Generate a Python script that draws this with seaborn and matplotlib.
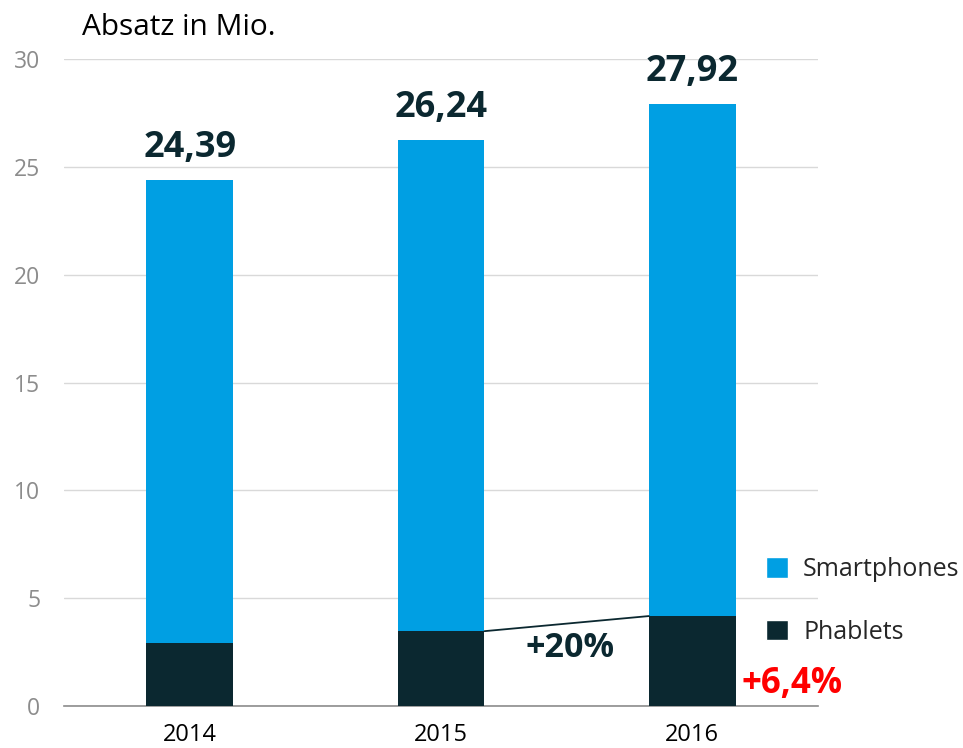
import matplotlib
matplotlib.use('Agg')
import matplotlib.pyplot as plt
import seaborn as sns
import pandas as pd
from matplotlib.patches import Patch

# Daten
jahre = ['2014', '2015', '2016']
gesamt = [24.39, 26.24, 27.92]
phablets = [2.9, 3.47, 4.17]
gesamt_labels = ['24,39', '26,24', '27,92']
wachstum_phablets = '+20%'
wachstum_gesamt = '+6,4%'

BLAU = '#009FE3'
DUNKEL = '#0B2830'

sns.set_theme(style='white')
plt.rcParams['font.family'] = ['Open Sans', 'DejaVu Sans']

df = pd.DataFrame({'jahr': jahre, 'gesamt': gesamt, 'phablets': phablets})

fig = plt.figure(figsize=(9.63, 7.48), dpi=100)
ax = fig.add_axes([64 / 963, 1 - 706 / 748, (818 - 64) / 963, (706 - 59) / 748])

# Gesamtbalken (blau), darüber Phablets (dunkel)
sns.barplot(data=df, x='jahr', y='gesamt', color=BLAU, width=0.346,
            saturation=1, linewidth=0, ax=ax, zorder=2)
sns.barplot(data=df, x='jahr', y='phablets', color=DUNKEL, width=0.346,
            saturation=1, linewidth=0, ax=ax, zorder=3)

ax.set_xlim(-0.5, 2.5)
ax.set_ylim(0, 30)
ax.set_yticks(range(0, 31, 5))
ax.yaxis.grid(True, color='#d9d9d9', linewidth=1)
ax.set_axisbelow(True)
for s in ['top', 'right', 'left']:
    ax.spines[s].set_visible(False)
ax.spines['bottom'].set_color('#8c8c8c')
ax.spines['bottom'].set_linewidth(1.2)
ax.set_xlabel('')
ax.set_ylabel('')
ax.tick_params(axis='y', length=0, pad=17, labelsize=16.5, labelcolor='#8c8c8c')
ax.tick_params(axis='x', length=0, pad=12, labelsize=17, labelcolor='black')

# Summen über den Balken
for i, (v, t) in enumerate(zip(gesamt, gesamt_labels)):
    ax.text(i, v + 0.65, t, ha='center', va='bottom', fontsize=26,
            fontweight='bold', color=DUNKEL)

# Verbindungslinie Phablets 2015 -> 2016
bw = 0.346 / 2
ax.plot([1 + bw, 2 - bw], [phablets[1], phablets[2]], color=DUNKEL,
        linewidth=1.3, zorder=4)
ax.text(1.513, 2.69, wachstum_phablets, ha='center', va='center',
        fontsize=24.5, fontweight='bold', color=DUNKEL)
ax.text(2.396, 1.02, wachstum_gesamt, ha='center', va='center',
        fontsize=25, fontweight='bold', color='#ff0000', clip_on=False)

fig.text(82 / 963, 1 - 35 / 748, 'Absatz in Mio.', fontsize=21.5,
         color='black', va='baseline', ha='left')

handles = [Patch(facecolor=BLAU, label='Smartphones'),
           Patch(facecolor=DUNKEL, label='Phablets')]
fig.legend(handles=handles, loc='center left', frameon=False,
           bbox_to_anchor=(766 / 963, 1 - 601 / 748), fontsize=18,
           handlelength=0.88, handleheight=0.88, labelspacing=1.5,
           handletextpad=0.6, borderaxespad=0, borderpad=0)

fig.savefig('out.png', dpi=100)
